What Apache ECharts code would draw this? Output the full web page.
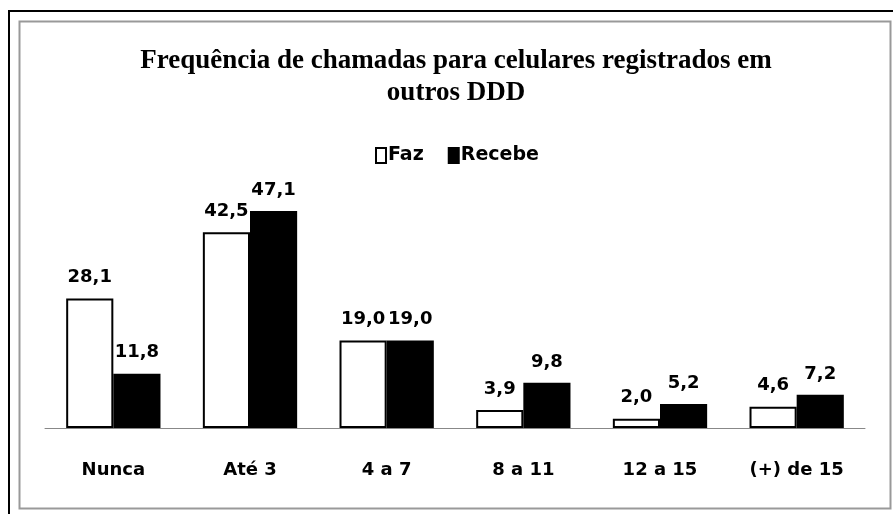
<!DOCTYPE html>
<html>
<head>
<meta charset="utf-8">
<script src="https://cdn.jsdelivr.net/npm/echarts@6/dist/echarts.min.js"></script>
<style>
html,body{margin:0;padding:0;background:#fff;}
#chart{width:893px;height:514px;}
</style>
</head>
<body>
<div id="chart"></div>
<script>
var categories = ['Nunca', 'Até 3', '4 a 7', '8 a 11', '12 a 15', '(+) de 15'];
var fazValues = [28.1, 42.5, 19.0, 3.9, 2.0, 4.6];
var recebeValues = [11.8, 47.1, 19.0, 9.8, 5.2, 7.2];
var seriesNames = ['Faz', 'Recebe'];
var titleText = 'Frequência de chamadas para celulares registrados em\noutros DDD';

var chart = echarts.init(document.getElementById('chart'), null, {renderer: 'canvas'});
function fmt(p) { return p.value.toFixed(1).replace('.', ','); }
var labelStyle = {
  show: true, position: 'top', distance: 12, formatter: fmt,
  fontFamily: 'DejaVu Sans', fontWeight: 'bold', fontSize: 18, color: '#000'
};
chart.setOption({
  animation: false,
  backgroundColor: '#fff',
  title: {
    text: titleText,
    left: 451, top: 40, textAlign: 'center',
    textStyle: {fontFamily: 'Liberation Serif', fontWeight: 'bold', fontSize: 27, lineHeight: 32, color: '#000'}
  },
  legend: {
    data: seriesNames,
    left: 370, top: 141,
    itemWidth: 10, itemHeight: 15, itemGap: 24,
    icon: 'rect',
    textStyle: {fontFamily: 'DejaVu Sans', fontWeight: 'bold', fontSize: 19, color: '#000', padding: [0,0,0,-3]}
  },
  grid: {left: 45, right: 28, top: 170, bottom: 86},
  xAxis: {
    type: 'category', data: categories,
    axisLine: {lineStyle: {color: '#888', width: 1}},
    axisTick: {show: false},
    axisLabel: {margin: 33, fontFamily: 'DejaVu Sans', fontWeight: 'bold', fontSize: 18, color: '#000'}
  },
  yAxis: {type: 'value', min: 0, max: 56, show: false, splitLine: {show: false}},
  series: [
    {name: seriesNames[0], type: 'bar', data: fazValues, barGap: '0%', barCategoryGap: '31%',
     itemStyle: {color: '#fff', borderColor: '#000', borderWidth: 2}, label: labelStyle},
    {name: seriesNames[1], type: 'bar', data: recebeValues,
     itemStyle: {color: '#000', borderColor: '#000', borderWidth: 2}, label: labelStyle}
  ],
  graphic: [
    {type: 'line', shape: {x1: 8, y1: 11, x2: 893, y2: 11}, style: {stroke: '#000', lineWidth: 2}, z: 100},
    {type: 'line', shape: {x1: 9, y1: 11, x2: 9, y2: 514}, style: {stroke: '#000', lineWidth: 2}, z: 100},
    {type: 'rect', shape: {x: 19.5, y: 21.5, width: 871, height: 487}, style: {fill: 'none', stroke: '#999', lineWidth: 2}, z: 100}
  ]
});
</script>
</body>
</html>
